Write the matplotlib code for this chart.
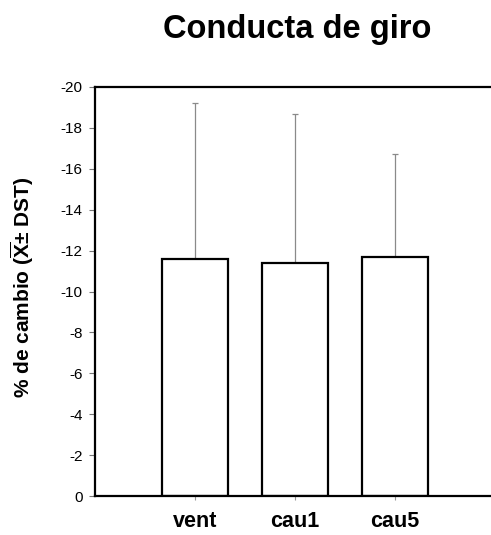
import matplotlib
matplotlib.use("Agg")
import matplotlib.pyplot as plt
import numpy as np

categories = ["vent", "cau1", "cau5"]
means = [-11.6, -11.4, -11.7]
sd = [7.6, 7.3, 5.0]
yticks = [-20, -18, -16, -14, -12, -10, -8, -6, -4, -2, 0]

plt.rcParams['font.family'] = ['Liberation Sans', 'DejaVu Sans']
plt.rcParams['axes.unicode_minus'] = False
plt.rcParams['mathtext.fontset'] = 'custom'
plt.rcParams['mathtext.rm'] = 'Liberation Sans:bold'
plt.rcParams['mathtext.bf'] = 'Liberation Sans:bold'

W, H = 491, 535
fig = plt.figure(figsize=(W / 100, H / 100), dpi=100)
left, right, top, bottom = 95, 495, 87, 496
ax = fig.add_axes([left / W, 1 - bottom / H, (right - left) / W, (bottom - top) / H])

x = np.arange(1, len(categories) + 1)
ax.errorbar(x, means, yerr=[sd, [0] * len(sd)], fmt='none', ecolor='#8a8a8a',
            elinewidth=0.9, capsize=2.5, capthick=0.9, zorder=1)
ax.bar(x, means, width=0.66, color='white', edgecolor='black', linewidth=1.6, zorder=2)

ax.set_xlim(0, 4)
ax.set_ylim(0, -20)
ax.set_yticks(yticks)
ax.set_yticklabels([str(t) for t in yticks], fontsize=11)
ax.set_xticks(x)
ax.set_xticklabels(categories, fontsize=15.5, fontweight='bold')

for s in ax.spines.values():
    s.set_linewidth(1.6)
ax.tick_params(axis='y', direction='out', length=4, width=0.8, color='#777777', pad=5)
ax.tick_params(axis='x', direction='out', length=3, width=0.8, color='#999999', pad=8)

fig.text(22 / W, 1 - 287 / H, r'% de cambio ($\overline{\mathbf{X}}$± DST)',
         rotation=90, ha='center', va='center', fontsize=15, fontweight='bold')

fig.text(297 / W, 1 - 38 / H, "Conducta de giro", ha='center', va='baseline',
         fontsize=23.5, fontweight='bold')

fig.savefig("out.png", dpi=100)
